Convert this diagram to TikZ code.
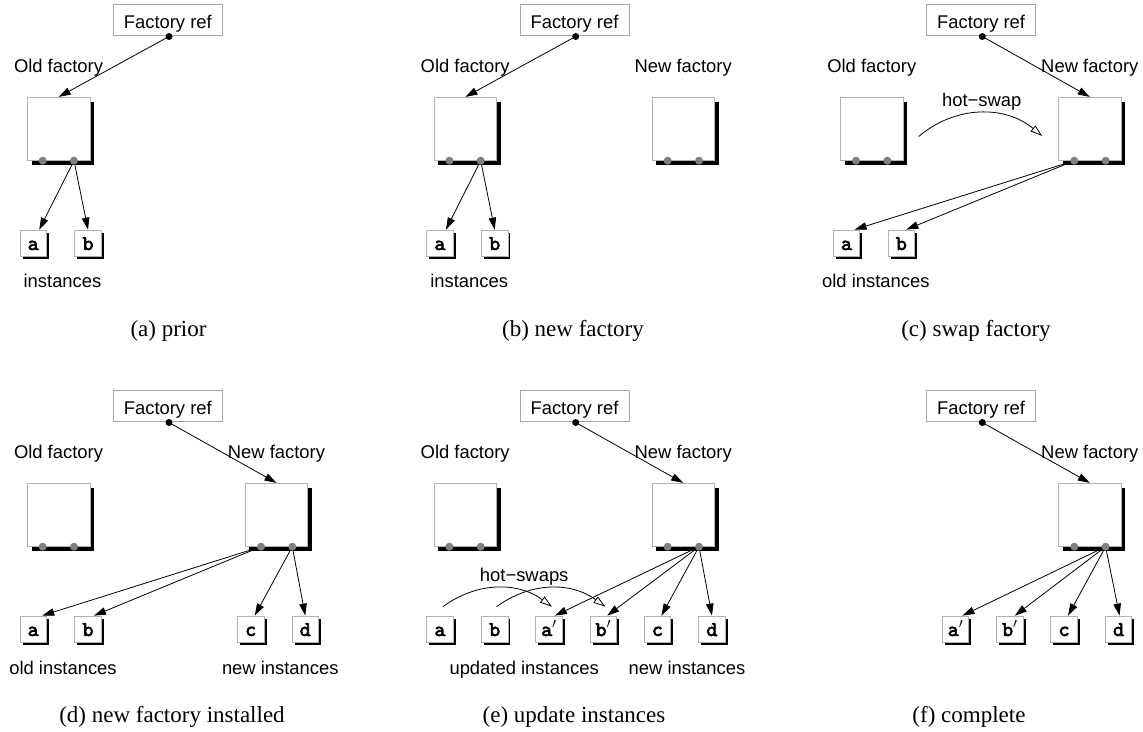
\documentclass[tikz,border=0pt]{standalone}
\usepackage{fontspec}
\setmainfont{Liberation Serif}
\setsansfont{Liberation Sans}
\newfontfamily\instfont{lmmono10-regular.otf}[FakeBold=3]
\usetikzlibrary{arrows.meta,shadows}
\pgfdeclarelayer{bg}
\pgfsetlayers{bg,main}
\tikzset{
  lbl/.style={font=\fontsize{18.4}{22}\selectfont\sffamily, inner sep=0pt, anchor=base},
  refbox/.style={draw=gray!70, fill=white, line width=0.8pt, minimum width=109pt, minimum height=30.3pt,
    inner sep=0pt, text height=17pt, text depth=0.1pt, font=\fontsize{18.4}{22}\selectfont\sffamily},
  refdot/.style={circle, fill=black, minimum size=7pt, inner sep=0pt},
  factbox/.style={draw=gray!60, fill=white, line width=0.8pt, minimum width=62.5pt, minimum height=63.4pt,
    inner sep=0pt, drop shadow={shadow xshift=4.2pt, shadow yshift=-4.2pt, fill=black, opacity=1}},
  portdot/.style={circle, fill=gray, minimum size=8pt, inner sep=0pt},
  inst/.style={draw=gray!60, fill=white, line width=0.8pt, minimum size=26.5pt, inner sep=0pt,
    text height=13.5pt, text depth=0pt, font=\fontsize{21}{22}\selectfont\instfont,
    drop shadow={shadow xshift=2.5pt, shadow yshift=-2.5pt, fill=black, opacity=1}},
  link/.style={line width=0.8pt, -{Triangle[length=12pt,width=7.5pt]}},
  swaplink/.style={line width=0.8pt, -{Triangle[open,length=12pt,width=7.5pt,fill=white]}},
  capt/.style={font=\fontsize{23}{27}\selectfont\rmfamily, anchor=base, inner sep=0pt},
}
\begin{document}
\begin{tikzpicture}[x=1pt,y=-1pt]
\useasboundingbox (0,0) rectangle (1143,731);

% ---------------- (a) prior
\begin{scope}[shift={(0,0)}]
\node[refbox] (pa-ref) at (167.8,19.85) {Factory ref};
\node[refdot] (pa-rdot) at (169,36.5) {};
\node[lbl] (pa-oldlbl) at (58.5,72) {Old factory};
\node[factbox] (pa-old) at (58.7,129) {};
\node[portdot] (pa-o1) at (42.7,160.7) {};
\node[portdot] (pa-o2) at (74,160.7) {};
\node[inst] (pa-a) at (33.25,243.25) {a};
\node[inst] (pa-b) at (88,243.25) {b};
\node[lbl] (pa-il) at (62.5,287.5) {instances};
\begin{pgfonlayer}{bg}
\draw[link] (pa-rdot.center) -- (pa-old.north);
\draw[link] (pa-o2.center) -- ([xshift=6pt]pa-a.north);
\draw[link] (pa-o2.center) -- (pa-b.north);
\end{pgfonlayer}
\end{scope}
\node[capt] (pa-cap) at (168.5,336) {(a) prior};

% ---------------- (b) new factory
\begin{scope}[shift={(406.7,0)}]
\node[refbox] (pb-ref) at (167.8,19.85) {Factory ref};
\node[refdot] (pb-rdot) at (169,36.5) {};
\node[lbl] (pb-oldlbl) at (58.5,72) {Old factory};
\node[factbox] (pb-old) at (58.7,129) {};
\node[portdot] (pb-o1) at (42.7,160.7) {};
\node[portdot] (pb-o2) at (74,160.7) {};
\node[lbl] (pb-newlbl) at (276.5,72) {New factory};
\node[factbox] (pb-new) at (276.5,129) {};
\node[portdot] (pb-n1) at (261,160.7) {};
\node[portdot] (pb-n2) at (292.3,160.7) {};
\node[inst] (pb-a) at (33.25,243.25) {a};
\node[inst] (pb-b) at (88,243.25) {b};
\node[lbl] (pb-il) at (62.5,287.5) {instances};
\begin{pgfonlayer}{bg}
\draw[link] (pb-rdot.center) -- (pb-old.north);
\draw[link] (pb-o2.center) -- ([xshift=6pt]pb-a.north);
\draw[link] (pb-o2.center) -- (pb-b.north);
\end{pgfonlayer}
\end{scope}
\node[capt] (pb-cap) at (573,336) {(b) new factory};

% ---------------- (c) swap factory
\begin{scope}[shift={(813.3,0)}]
\node[refbox] (pc-ref) at (167.8,19.85) {Factory ref};
\node[refdot] (pc-rdot) at (169,36.5) {};
\node[lbl] (pc-oldlbl) at (58.5,72) {Old factory};
\node[factbox] (pc-old) at (58.7,129) {};
\node[portdot] (pc-o1) at (42.7,160.7) {};
\node[portdot] (pc-o2) at (74,160.7) {};
\node[lbl] (pc-newlbl) at (276.5,72) {New factory};
\node[factbox] (pc-new) at (276.5,129) {};
\node[portdot] (pc-n1) at (261,160.7) {};
\node[portdot] (pc-n2) at (292.3,160.7) {};
\node[lbl] (pc-hs) at (168.4,106.5) {hot−swap};
\node[inst] (pc-a) at (33.25,243.25) {a};
\node[inst] (pc-b) at (88,243.25) {b};
\node[lbl] (pc-il) at (62.5,287.5) {old instances};
\begin{pgfonlayer}{bg}
\draw[link] (pc-rdot.center) -- (pc-new.north);
\draw[swaplink] ([shift={(15,7.5)}]pc-old.east) to[bend left=40] ([shift={(-16,7)}]pc-new.west);
\draw[link] (pc-n1.center) -- ([xshift=8pt]pc-a.north);
\draw[link] (pc-n1.center) -- ([xshift=5pt]pc-b.north);
\end{pgfonlayer}
\end{scope}
\node[capt] (pc-cap) at (976,336) {(c) swap factory};

% ---------------- (d) new factory installed
\begin{scope}[shift={(0,386)}]
\node[refbox] (pd-ref) at (167.8,19.85) {Factory ref};
\node[refdot] (pd-rdot) at (169,36.5) {};
\node[lbl] (pd-oldlbl) at (58.5,72) {Old factory};
\node[factbox] (pd-old) at (58.7,129) {};
\node[portdot] (pd-o1) at (42.7,160.7) {};
\node[portdot] (pd-o2) at (74,160.7) {};
\node[lbl] (pd-newlbl) at (276.5,72) {New factory};
\node[factbox] (pd-new) at (276.5,129) {};
\node[portdot] (pd-n1) at (261,160.7) {};
\node[portdot] (pd-n2) at (292.3,160.7) {};
\node[inst] (pd-a) at (33.25,243.25) {a};
\node[inst] (pd-b) at (88,243.25) {b};
\node[inst] (pd-c) at (250.75,243.25) {c};
\node[inst] (pd-d) at (305.25,243.25) {d};
\node[lbl] (pd-il) at (63,288) {old instances};
\node[lbl] (pd-nl) at (280.3,288) {new instances};
\begin{pgfonlayer}{bg}
\draw[link] (pd-rdot.center) -- (pd-new.north);
\draw[link] (pd-n1.center) -- ([xshift=9pt]pd-a.north);
\draw[link] (pd-n1.center) -- ([xshift=6pt]pd-b.north);
\draw[link] (pd-n2.center) -- ([xshift=4pt]pd-c.north);
\draw[link] (pd-n2.center) -- (pd-d.north);
\end{pgfonlayer}
\end{scope}
\node[capt] (pd-cap) at (172,722) {(d) new factory installed};

% ---------------- (e) update instances
\begin{scope}[shift={(406.7,386)}]
\node[refbox] (pe-ref) at (167.8,19.85) {Factory ref};
\node[refdot] (pe-rdot) at (169,36.5) {};
\node[lbl] (pe-oldlbl) at (58.5,72) {Old factory};
\node[factbox] (pe-old) at (58.7,129) {};
\node[portdot] (pe-o1) at (42.7,160.7) {};
\node[portdot] (pe-o2) at (74,160.7) {};
\node[lbl] (pe-newlbl) at (276.5,72) {New factory};
\node[factbox] (pe-new) at (276.5,129) {};
\node[portdot] (pe-n1) at (261,160.7) {};
\node[portdot] (pe-n2) at (292.3,160.7) {};
\node[inst] (pe-a) at (33.25,243.25) {a};
\node[inst] (pe-b) at (88,243.25) {b};
\node[inst] (pe-a2) at (142.25,243.25) {a$'$};
\node[inst] (pe-b2) at (196.55,243.25) {b$'$};
\node[inst] (pe-c) at (250.75,243.25) {c};
\node[inst] (pe-d) at (305.25,243.25) {d};
\node[lbl] (pe-hs) at (117.5,195.7) {hot−swaps};
\node[lbl] (pe-ul) at (117.5,288) {updated instances};
\node[lbl] (pe-nl) at (280.3,288) {new instances};
\begin{pgfonlayer}{bg}
\draw[link] (pe-rdot.center) -- (pe-new.north);
\draw[swaplink] ([shift={(3,-9)}]pe-a.north) to[bend left=36] ([shift={(3,-9)}]pe-a2.north);
\draw[swaplink] ([shift={(2,-9)}]pe-b.north) to[bend left=36] ([shift={(2,-9)}]pe-b2.north);
\draw[link] (pe-n2.center) -- ([xshift=6pt]pe-a2.north);
\draw[link] (pe-n2.center) -- ([xshift=4pt]pe-b2.north);
\draw[link] (pe-n2.center) -- ([xshift=4pt]pe-c.north);
\draw[link] (pe-n2.center) -- (pe-d.north);
\end{pgfonlayer}
\end{scope}
\node[capt] (pe-cap) at (574,722) {(e) update instances};

% ---------------- (f) complete
\begin{scope}[shift={(813.3,386)}]
\node[refbox] (pf-ref) at (167.8,19.85) {Factory ref};
\node[refdot] (pf-rdot) at (169,36.5) {};
\node[lbl] (pf-newlbl) at (276.5,72) {New factory};
\node[factbox] (pf-new) at (276.5,129) {};
\node[portdot] (pf-n1) at (261,160.7) {};
\node[portdot] (pf-n2) at (292.3,160.7) {};
\node[inst] (pf-a2) at (142.25,243.25) {a$'$};
\node[inst] (pf-b2) at (196.55,243.25) {b$'$};
\node[inst] (pf-c) at (250.75,243.25) {c};
\node[inst] (pf-d) at (305.25,243.25) {d};
\begin{pgfonlayer}{bg}
\draw[link] (pf-rdot.center) -- (pf-new.north);
\draw[link] (pf-n2.center) -- ([xshift=7pt]pf-a2.north);
\draw[link] (pf-n2.center) -- ([xshift=5pt]pf-b2.north);
\draw[link] (pf-n2.center) -- ([xshift=4pt]pf-c.north);
\draw[link] (pf-n2.center) -- ([xshift=1pt]pf-d.north);
\end{pgfonlayer}
\end{scope}
\node[capt] (pf-cap) at (969,722) {(f) complete};

\end{tikzpicture}
\end{document}
